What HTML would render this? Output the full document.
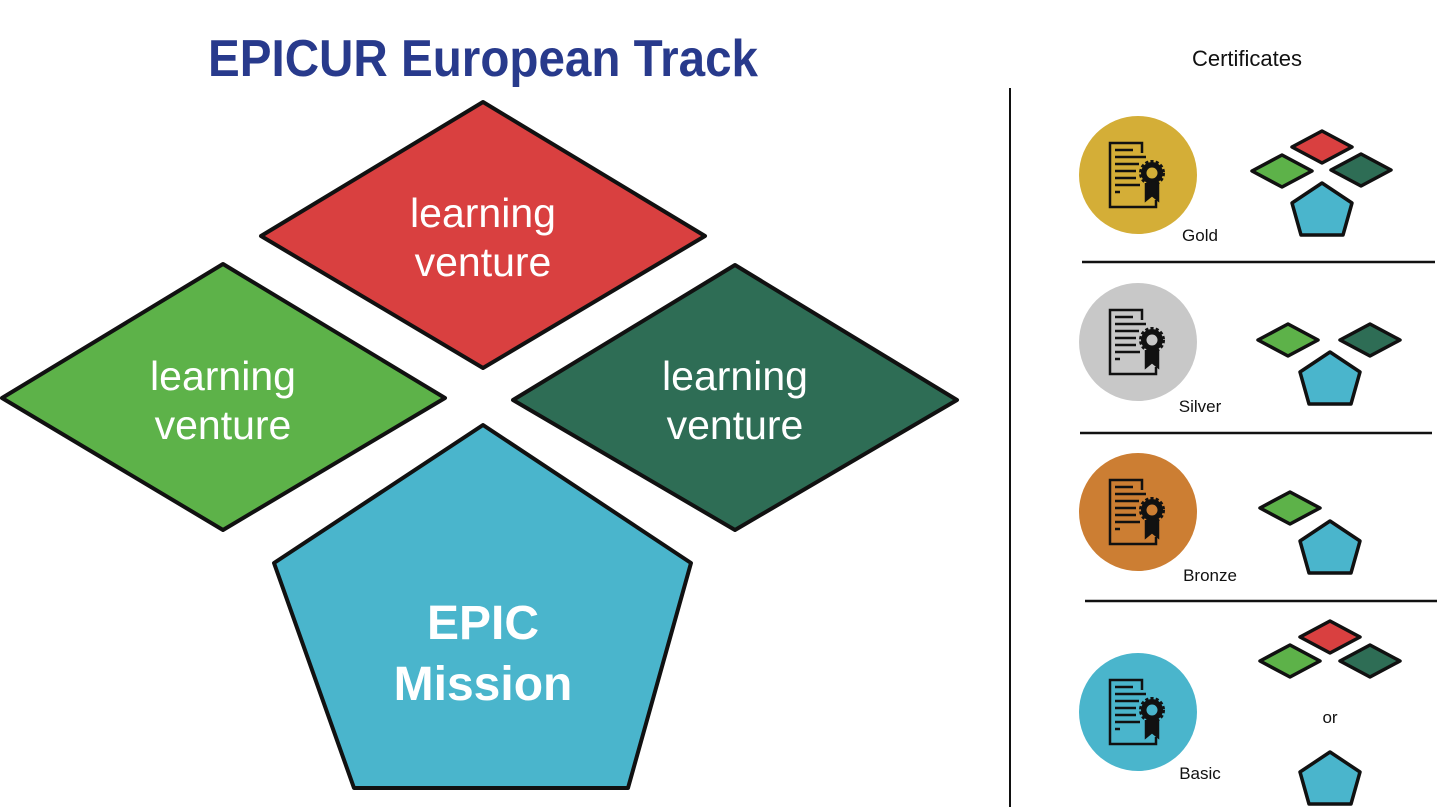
<!DOCTYPE html>
<html><head><meta charset="utf-8"><style>html,body{margin:0;padding:0;background:#fff}svg{display:block}</style></head><body>
<svg width="1439" height="807" viewBox="0 0 1439 807" xmlns="http://www.w3.org/2000/svg" font-family="Liberation Sans, sans-serif">
<defs>
<g id="ic" fill="none" stroke="#111" stroke-width="2.5">
<path d="M4 -22 V-32 H-28 V32 H18 V25"/>
<line x1="-23" y1="-25" x2="-5" y2="-25"/><line x1="-23" y1="-18" x2="8" y2="-18"/>
<line x1="-23" y1="-11" x2="1" y2="-11"/><line x1="-23" y1="-4" x2="-2" y2="-4"/>
<line x1="-23" y1="3" x2="-2" y2="3"/><line x1="-23" y1="10" x2="2" y2="10"/>
<line x1="-23" y1="17" x2="-18" y2="17"/>
<circle cx="14" cy="-2" r="11" fill="#111" stroke-dasharray="3 2" stroke-width="4"/>
<circle cx="14" cy="-2" r="7" fill="currentColor" stroke-width="3"/>
<path d="M8 8 V25 L14 20 L20 25 V8" fill="#111"/>
</g>
<g id="gd"><path d="M0 -16 L30 0 L0 16 L-30 0Z" fill="#5db249" stroke="#111" stroke-width="3.5" stroke-linejoin="round"/></g>
<g id="rd"><path d="M0 -16 L30 0 L0 16 L-30 0Z" fill="#d94040" stroke="#111" stroke-width="3.5" stroke-linejoin="round"/></g>
<g id="dd"><path d="M0 -16 L30 0 L0 16 L-30 0Z" fill="#2e6d55" stroke="#111" stroke-width="3.5" stroke-linejoin="round"/></g>
<g id="pt"><path d="M0 0 L30 20 L21 52 L-21 52 L-30 20Z" fill="#4ab5cc" stroke="#111" stroke-width="3.5" stroke-linejoin="round"/></g>
</defs>
<text x="483" y="76" text-anchor="middle" font-size="52" font-weight="bold" fill="#283a8c" textLength="550" lengthAdjust="spacingAndGlyphs">EPICUR European Track</text>
<g stroke="#111" stroke-width="4" stroke-linejoin="round">
<path d="M483 102 L705 236 L483 368 L261 236Z" fill="#d94040"/>
<path d="M223 264 L445 398 L223 530 L2 398Z" fill="#5db249"/>
<path d="M735 265 L957 400 L735 530 L513 400Z" fill="#2e6d55"/>
<path d="M483 425 L691 563 L628 788 L354 788 L274 563Z" fill="#4ab5cc"/>
</g>
<g fill="#fff" font-size="41" text-anchor="middle">
<text x="483" y="227">learning</text><text x="483" y="276">venture</text>
<text x="223" y="390">learning</text><text x="223" y="439">venture</text>
<text x="735" y="390">learning</text><text x="735" y="439">venture</text>
<text x="483" y="639" font-size="48" font-weight="bold">EPIC</text>
<text x="483" y="700" font-size="48" font-weight="bold">Mission</text>
</g>
<line x1="1010" y1="88" x2="1010" y2="807" stroke="#111" stroke-width="2"/>
<text x="1247" y="66" text-anchor="middle" font-size="22" fill="#111">Certificates</text>
<g stroke="#111" stroke-width="2.5">
<line x1="1082" y1="262" x2="1435" y2="262"/><line x1="1080" y1="433" x2="1432" y2="433"/><line x1="1085" y1="601" x2="1437" y2="601"/>
</g>
<circle cx="1138" cy="175" r="59" fill="#d4ae37"/><use href="#ic" x="1138" y="175" color="#d4ae37"/>
<circle cx="1138" cy="342" r="59" fill="#c8c8c8"/><use href="#ic" x="1138" y="342" color="#c8c8c8"/>
<circle cx="1138" cy="512" r="59" fill="#cc7e33"/><use href="#ic" x="1138" y="512" color="#cc7e33"/>
<circle cx="1138" cy="712" r="59" fill="#4ab5cc"/><use href="#ic" x="1138" y="712" color="#4ab5cc"/>
<g font-size="17" fill="#111" text-anchor="middle">
<text x="1200" y="241">Gold</text><text x="1200" y="412">Silver</text><text x="1210" y="581">Bronze</text><text x="1200" y="779">Basic</text>
<text x="1330" y="723">or</text>
</g>
<use href="#rd" x="1322" y="147"/><use href="#gd" x="1282" y="171"/><use href="#dd" x="1361" y="170"/><use href="#pt" x="1322" y="183"/>
<use href="#gd" x="1288" y="340"/><use href="#dd" x="1370" y="340"/><use href="#pt" x="1330" y="352"/>
<use href="#gd" x="1290" y="508"/><use href="#pt" x="1330" y="521"/>
<use href="#rd" x="1330" y="637"/><use href="#gd" x="1290" y="661"/><use href="#dd" x="1370" y="661"/><use href="#pt" x="1330" y="752"/>
</svg>
</body></html>
